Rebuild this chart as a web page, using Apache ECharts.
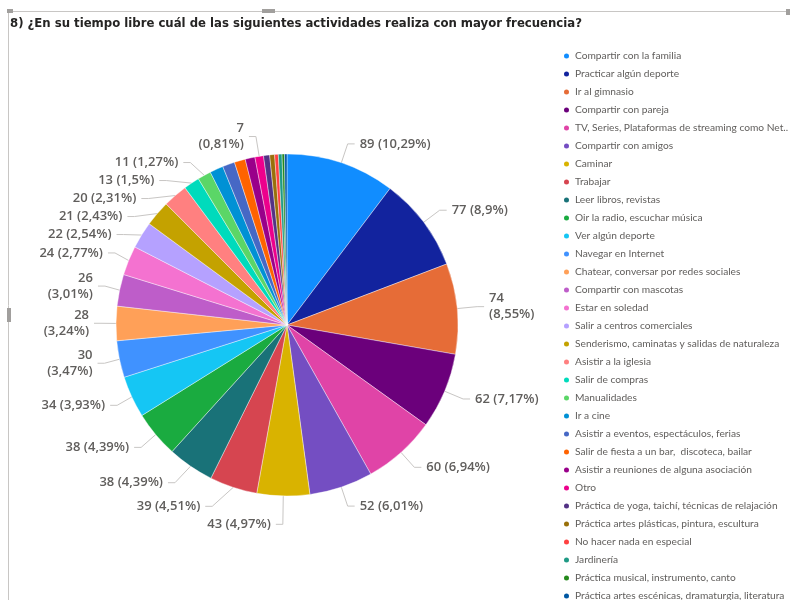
<!DOCTYPE html>
<html>
<head>
<meta charset="utf-8">
<script src="https://cdn.jsdelivr.net/npm/echarts@6/dist/echarts.min.js"></script>
<style>
  html, body { margin: 0; padding: 0; background: #ffffff; }
  #chart { width: 790px; height: 600px; }
</style>
</head>
<body>
<div id="chart"></div>
<script>
// Survey answers: free-time activities and how many people chose each one
const activities = [
  'Compartir con la familia',
  'Practicar algún deporte',
  'Ir al gimnasio',
  'Compartir con pareja',
  'TV, Series, Plataformas de streaming como Netflix',
  'Compartir con amigos',
  'Caminar',
  'Trabajar',
  'Leer libros, revistas',
  'Oir la radio, escuchar música',
  'Ver algún deporte',
  'Navegar en Internet',
  'Chatear, conversar por redes sociales',
  'Compartir con mascotas',
  'Estar en soledad',
  'Salir a centros comerciales',
  'Senderismo, caminatas y salidas de naturaleza',
  'Asistir a la iglesia',
  'Salir de compras',
  'Manualidades',
  'Ir a cine',
  'Asistir a eventos, espectáculos, ferias',
  'Salir de fiesta a un bar,  discoteca, bailar',
  'Asistir a reuniones de alguna asociación',
  'Otro',
  'Práctica de yoga, taichí, técnicas de relajación',
  'Práctica artes plásticas, pintura, escultura',
  'No hacer nada en especial',
  'Jardinería',
  'Práctica musical, instrumento, canto',
  'Práctica artes escénicas, dramaturgia, literatura'
];

const counts = [89, 77, 74, 62, 60, 52, 43, 39, 38, 38, 34, 30, 28, 26, 24, 22, 21, 20, 13, 11, 11, 10, 9, 8, 7, 5, 4, 3, 3, 2, 2];

const sliceColors = [
  '#118DFF', '#12239E', '#E66C37', '#6B007B', '#E044A7', '#744EC2', '#D9B300', '#D64550',
  '#197278', '#1AAB40', '#15C6F4', '#4092FF', '#FFA058', '#BE5DC9', '#F472D0', '#B5A1FF',
  '#C4A200', '#FF8080', '#00DBBC', '#5BD667', '#0091D5', '#4668C5', '#FF6300', '#99008A',
  '#EC008C', '#533285', '#99700A', '#FF4141', '#1F9A85', '#25891C', '#0057A2'
];

// Slices whose value label is drawn, and labels split onto two lines
const labeledActivities = activities.slice(0, 20).concat(['Otro']);
const twoLineLabels = ['Ir al gimnasio', 'Navegar en Internet', 'Chatear, conversar por redes sociales', 'Compartir con mascotas', 'Otro'];

const total = counts.reduce((a, b) => a + b, 0);

function pctText(v) {
  let p = (v / total * 100).toFixed(2);
  if (p.indexOf('.') >= 0) p = p.replace(/0+$/, '').replace(/\.$/, '');
  return p.replace('.', ',') + '%';
}

const pieData = activities.map((name, i) => ({
  name: name,
  value: counts[i],
  itemStyle: { color: sliceColors[i] },
  label: { show: labeledActivities.indexOf(name) >= 0 },
  labelLine: { show: labeledActivities.indexOf(name) >= 0 }
}));

const chart = echarts.init(document.getElementById('chart'), null, { renderer: 'canvas' });

chart.setOption({
  animation: false,
  backgroundColor: '#ffffff',
  title: {
    text: '8) ¿En su tiempo libre cuál de las siguientes actividades realiza con mayor frecuencia?',
    left: 5,
    top: 12,
    textStyle: {
      fontFamily: '"DejaVu Sans Condensed", "Liberation Sans Narrow", sans-serif',
      fontSize: 13,
      fontWeight: 'bold',
      color: '#252423'
    }
  },
  legend: {
    orient: 'vertical',
    left: 557,
    top: 45,
    height: 1200,
    icon: 'circle',
    itemWidth: 7,
    itemHeight: 7,
    itemGap: 6,
    data: activities,
    textStyle: {
      fontFamily: '"Segoe UI", Lato, "Open Sans", sans-serif',
      fontSize: 10.2,
      lineHeight: 12,
      color: '#605E5C',
      width: 216,
      overflow: 'truncate',
      ellipsis: '..'
    }
  },
  graphic: [
    { type: 'line', shape: { x1: 8, y1: 11.5, x2: 790, y2: 11.5 }, style: { stroke: '#C8C6C4', lineWidth: 1 } },
    { type: 'line', shape: { x1: 8.5, y1: 11, x2: 8.5, y2: 600 }, style: { stroke: '#C8C6C4', lineWidth: 1 } },
    { type: 'rect', shape: { x: 7, y: 9, width: 6, height: 4 }, style: { fill: '#A19F9D' } },
    { type: 'rect', shape: { x: 262, y: 9, width: 13, height: 4 }, style: { fill: '#A19F9D' } },
    { type: 'rect', shape: { x: 786, y: 9, width: 4, height: 6 }, style: { fill: '#A19F9D' } },
    { type: 'rect', shape: { x: 7, y: 308, width: 4, height: 14 }, style: { fill: '#A19F9D' } }
  ],
  series: [{
    type: 'pie',
    center: [287, 325],
    radius: [0, 171],
    startAngle: 90,
    clockwise: true,
    avoidLabelOverlap: true,
    data: pieData,
    itemStyle: { borderColor: '#ffffff', borderWidth: 0.4 },
    label: {
      position: 'outside',
      formatter: function (p) {
        const sep = twoLineLabels.indexOf(p.name) >= 0 ? '\n' : ' ';
        return p.value + sep + '(' + pctText(p.value) + ')';
      },
      fontFamily: '"Segoe UI", "Open Sans", sans-serif',
      fontSize: 13,
      fontWeight: 600,
      lineHeight: 16,
      color: '#605E5C'
    },
    labelLine: {
      length: 20,
      length2: 7,
      smooth: false,
      lineStyle: { color: '#C8C6C4', width: 1 }
    },
    emphasis: { disabled: true }
  }]
});
</script>
</body>
</html>
